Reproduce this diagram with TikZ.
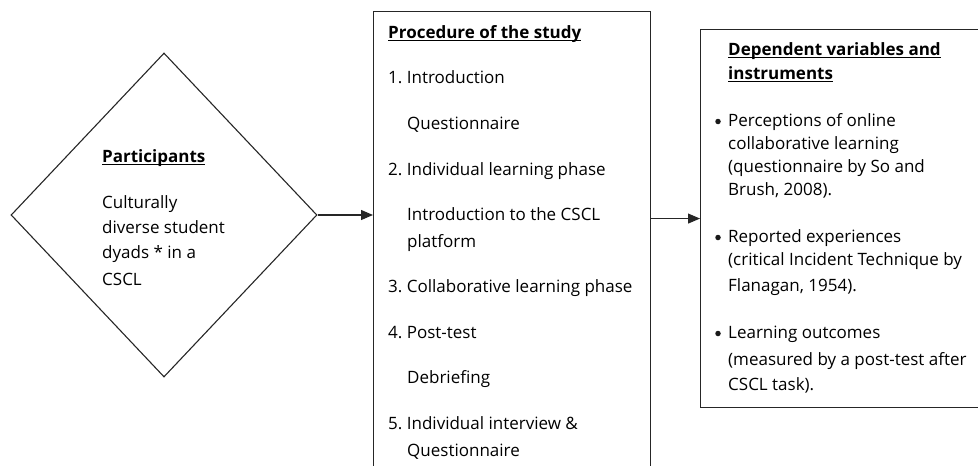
\documentclass[tikz,border=0pt]{standalone}
\usepackage{fontspec}
\setmainfont{Open Sans}
\usetikzlibrary{shapes.geometric,arrows.meta}
\frenchspacing

\newsavebox\headbox
\newcommand\head[1]{\sbox\headbox{\bfseries #1}%
  \rlap{\rule[-3pt]{\wd\headbox}{0.9pt}}\usebox\headbox}

\begin{document}
\begin{tikzpicture}[
  x = 1pt, y = -1pt,
  every node/.style = {font = \fontsize{17}{20}\selectfont},
  frame/.style = {draw = black!85, line width = 1.1pt, inner sep = 0pt},
  line/.style = {anchor = base west, inner sep = 0pt},
  dot/.style = {circle, fill = black!90, minimum size = 5.5pt, inner sep = 0pt},
  arr/.style = {draw = black!85, line width = 1.1pt,
                -{Triangle[length = 12pt, width = 10pt]}},
  ]
  \useasboundingbox (0,0) rectangle (978,466);
  \clip (0,0) rectangle (978,466);

  % the three panels
  \node[frame, diamond, minimum width = 306pt, minimum height = 324pt] (part) at (164,215) {};
  \node[frame, anchor = north west, minimum width = 277pt, minimum height = 480pt] (proc) at (373,11) {};
  \node[frame, anchor = north west, minimum width = 300pt, minimum height = 378pt] (dep) at (700,29) {};

  % participants
  \foreach \y/\t [count = \i] in {162/\head{Participants}, 208/Culturally,
      233/diverse student, 258/dyads * in a, 285/CSCL}
    \node[line] (pt\i) at (102,\y) {\t};

  % procedure
  \foreach \x/\y/\t [count = \i] in {388/38/\head{Procedure of the study},
      388/83/1. Introduction, 407/129/Questionnaire,
      388/175/2. Individual learning phase,
      407/220/Introduction to the CSCL, 407/247/platform,
      388/292/3. Collaborative learning phase, 388/338/4. Post-test,
      407/383/Debriefing, 388/429/5. Individual interview \&,
      407/456/Questionnaire}
    \node[line] (pr\i) at (\x,\y) {\t};

  % dependent variables
  \foreach \y/\t [count = \i] in {55/\head{Dependent variables and},
      79/\head{instruments},
      126/Perceptions of online, 149/collaborative learning,
      172/(questionnaire by So and, 195/{Brush, 2008).},
      242/Reported experiences, 265/(critical Incident Technique by,
      291/{Flanagan, 1954).},
      338/Learning outcomes, 365/(measured by a post-test after,
      390/CSCL task).}
    \node[line] (dv\i) at (728,\y) {\t};
  \foreach \y [count = \i] in {121.5, 237.5, 333.5}
    \node[dot] (bl\i) at (718,\y) {};

  % connectors
  \draw[arr] (part.east) -- (part.east -| proc.west);
  \draw[arr] (dep.west -| proc.east) -- (dep.west);
\end{tikzpicture}
\end{document}
